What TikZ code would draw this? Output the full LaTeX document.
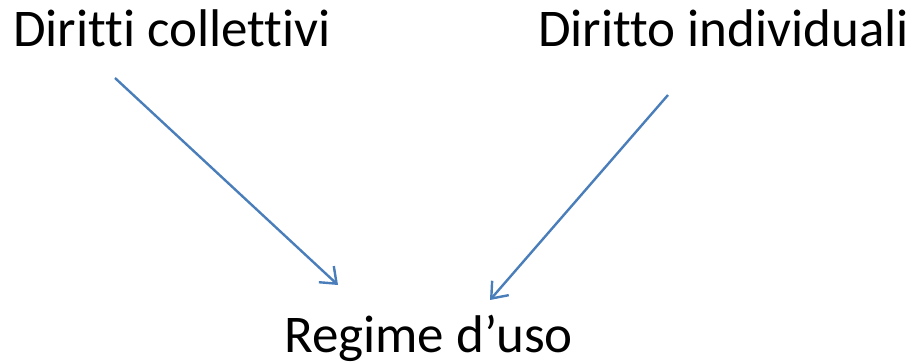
\documentclass[tikz,border=0pt]{standalone}
\usepackage{fontspec}
\setmainfont[Ligatures={NoCommon}]{Carlito}
\usetikzlibrary{arrows.meta}
\definecolor{arrowblue}{HTML}{4A7EBB}
\tikzset{
  lbl/.style={inner sep=0pt, anchor=base west, font=\fontsize{53}{63}\selectfont},
  conn/.style={draw=arrowblue, line width=2.4pt, -{Straight Barb[length=14pt,width=22pt,line width=2.4pt]}}
}
\begin{document}
\begin{tikzpicture}[x=1pt,y=-1pt]
\useasboundingbox (0,0) rectangle (914,363);
\node[lbl] (dc) at (13,47) {Diritti collettivi};
\node[lbl] (di) at (538,47) {Diritto individuali};
\node[lbl] (ru) at (284,353) {Regime d’uso};
\coordinate (s1) at (115,78);
\coordinate (e1) at (338,285);
\coordinate (s2) at (668,95);
\coordinate (e2) at (490,300);
\draw[conn] (s1) -- (e1);
\draw[conn] (s2) -- (e2);
\end{tikzpicture}
\end{document}
